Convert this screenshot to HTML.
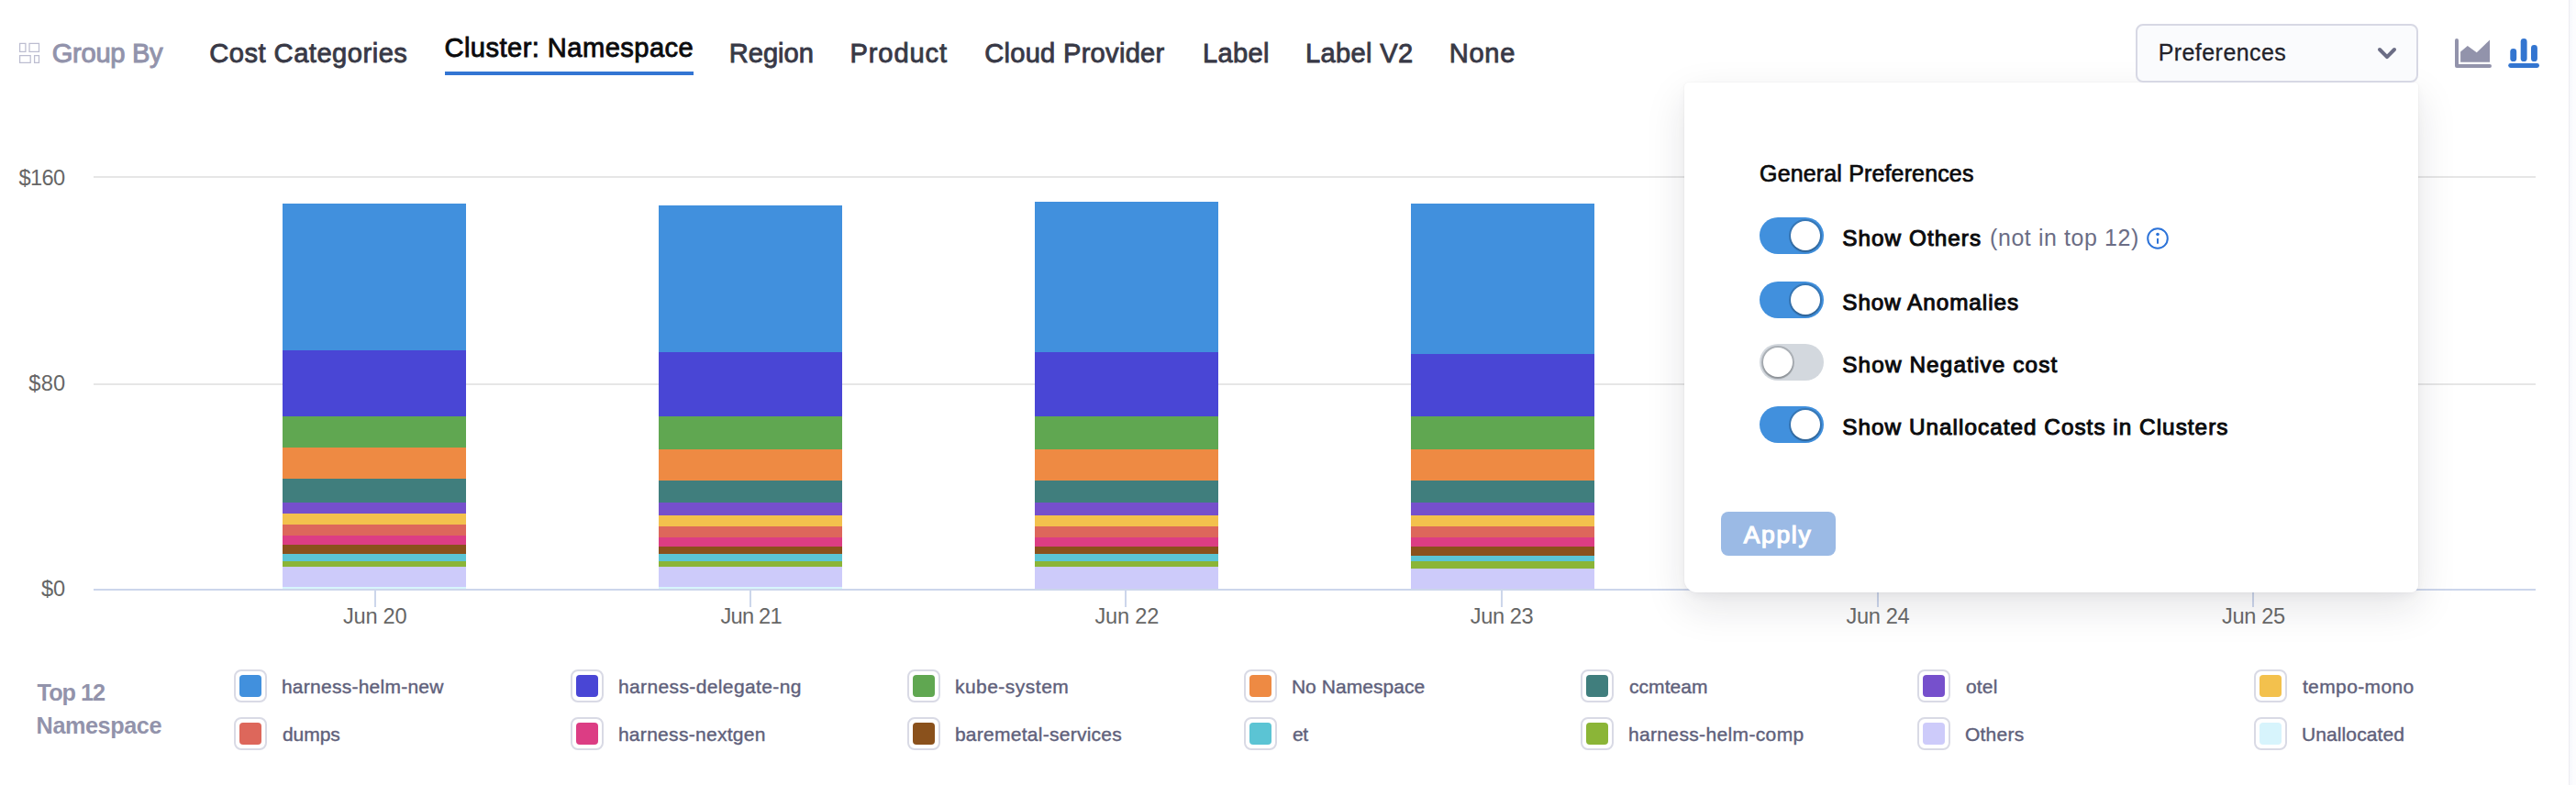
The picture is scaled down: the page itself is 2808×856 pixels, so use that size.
<!DOCTYPE html>
<html lang="en"><head><meta charset="utf-8"><title>Cost Explorer</title>
<style>
html,body{margin:0;padding:0;background:#fff;}
body{width:2808px;height:856px;position:relative;overflow:hidden;font-family:"Liberation Sans", sans-serif;-webkit-font-smoothing:antialiased;}
.t{position:absolute;white-space:nowrap;line-height:1;margin:0;padding:0;}
.a{position:absolute;}
.sw{position:absolute;width:32px;height:32px;border:2px solid #d9dae5;border-radius:8px;background:#fff;}
.sw i{position:absolute;left:4px;top:4px;width:24px;height:24px;border-radius:4px;}
.tg{position:absolute;left:82px;width:70px;height:40px;border-radius:20px;background:#4190dd;}
.tg i{position:absolute;top:4px;left:34px;width:32px;height:32px;border-radius:16px;background:#fff;box-shadow:0 0 0 2px rgba(16,22,26,.2),0 2px 2px rgba(16,22,26,.2);}
.tg.off{background:#d3d8de;}.tg.off i{left:4px;}
</style></head><body>
<div class="a" style="left:2800px;top:0;width:8px;height:856px;background:linear-gradient(90deg,#ececf1 0,#ececf1 1px,#f7f8fc 1px,#f8f9fd 3px,#fcfcfe 5px,#fcfcfe 8px);"></div>
<svg class="a" style="left:18px;top:44px" width="28" height="28" viewBox="18 44 28 28" fill="none" stroke="#bcbdd0" stroke-width="1.25"><rect x="21.6" y="47.4" width="6.3" height="9"/><rect x="32" y="47.4" width="10.5" height="9"/><rect x="21.6" y="60.6" width="11.6" height="7.8"/><rect x="37.6" y="60.6" width="4.9" height="7.8"/></svg>
<div class="a" style="left:485px;top:78px;width:271px;height:4px;background:#3375d3;"></div>
<div class="a" style="left:102px;top:192px;width:2662px;height:2px;background:#e6e6e6;"></div>
<div class="a" style="left:102px;top:418px;width:2662px;height:2px;background:#e6e6e6;"></div>
<div class="a" style="left:308px;top:222px;width:200px;height:160px;background:#4190dd;"></div>
<div class="a" style="left:308px;top:382px;width:200px;height:72px;background:#4946d5;"></div>
<div class="a" style="left:308px;top:454px;width:200px;height:34px;background:#60a751;"></div>
<div class="a" style="left:308px;top:488px;width:200px;height:34px;background:#ee8a43;"></div>
<div class="a" style="left:308px;top:522px;width:200px;height:26px;background:#407e7d;"></div>
<div class="a" style="left:308px;top:548px;width:200px;height:12px;background:#7650cc;"></div>
<div class="a" style="left:308px;top:560px;width:200px;height:12px;background:#f3c14d;"></div>
<div class="a" style="left:308px;top:572px;width:200px;height:12px;background:#dd675b;"></div>
<div class="a" style="left:308px;top:584px;width:200px;height:10px;background:#dc3d84;"></div>
<div class="a" style="left:308px;top:594px;width:200px;height:10px;background:#8a511c;"></div>
<div class="a" style="left:308px;top:604px;width:200px;height:8px;background:#5bc4d4;"></div>
<div class="a" style="left:308px;top:612px;width:200px;height:6px;background:#8bb537;"></div>
<div class="a" style="left:308px;top:618px;width:200px;height:22px;background:#cdcbfa;"></div>
<div class="a" style="left:308px;top:640px;width:200px;height:2px;background:#d7f4fc;"></div>
<div class="a" style="left:718px;top:224px;width:200px;height:160px;background:#4190dd;"></div>
<div class="a" style="left:718px;top:384px;width:200px;height:70px;background:#4946d5;"></div>
<div class="a" style="left:718px;top:454px;width:200px;height:36px;background:#60a751;"></div>
<div class="a" style="left:718px;top:490px;width:200px;height:34px;background:#ee8a43;"></div>
<div class="a" style="left:718px;top:524px;width:200px;height:24px;background:#407e7d;"></div>
<div class="a" style="left:718px;top:548px;width:200px;height:14px;background:#7650cc;"></div>
<div class="a" style="left:718px;top:562px;width:200px;height:12px;background:#f3c14d;"></div>
<div class="a" style="left:718px;top:574px;width:200px;height:12px;background:#dd675b;"></div>
<div class="a" style="left:718px;top:586px;width:200px;height:10px;background:#dc3d84;"></div>
<div class="a" style="left:718px;top:596px;width:200px;height:8px;background:#8a511c;"></div>
<div class="a" style="left:718px;top:604px;width:200px;height:8px;background:#5bc4d4;"></div>
<div class="a" style="left:718px;top:612px;width:200px;height:6px;background:#8bb537;"></div>
<div class="a" style="left:718px;top:618px;width:200px;height:22px;background:#cdcbfa;"></div>
<div class="a" style="left:718px;top:640px;width:200px;height:2px;background:#d7f4fc;"></div>
<div class="a" style="left:1128px;top:220px;width:200px;height:164px;background:#4190dd;"></div>
<div class="a" style="left:1128px;top:384px;width:200px;height:70px;background:#4946d5;"></div>
<div class="a" style="left:1128px;top:454px;width:200px;height:36px;background:#60a751;"></div>
<div class="a" style="left:1128px;top:490px;width:200px;height:34px;background:#ee8a43;"></div>
<div class="a" style="left:1128px;top:524px;width:200px;height:24px;background:#407e7d;"></div>
<div class="a" style="left:1128px;top:548px;width:200px;height:14px;background:#7650cc;"></div>
<div class="a" style="left:1128px;top:562px;width:200px;height:12px;background:#f3c14d;"></div>
<div class="a" style="left:1128px;top:574px;width:200px;height:12px;background:#dd675b;"></div>
<div class="a" style="left:1128px;top:586px;width:200px;height:10px;background:#dc3d84;"></div>
<div class="a" style="left:1128px;top:596px;width:200px;height:8px;background:#8a511c;"></div>
<div class="a" style="left:1128px;top:604px;width:200px;height:8px;background:#5bc4d4;"></div>
<div class="a" style="left:1128px;top:612px;width:200px;height:6px;background:#8bb537;"></div>
<div class="a" style="left:1128px;top:618px;width:200px;height:24px;background:#cdcbfa;"></div>
<div class="a" style="left:1538px;top:222px;width:200px;height:164px;background:#4190dd;"></div>
<div class="a" style="left:1538px;top:386px;width:200px;height:68px;background:#4946d5;"></div>
<div class="a" style="left:1538px;top:454px;width:200px;height:36px;background:#60a751;"></div>
<div class="a" style="left:1538px;top:490px;width:200px;height:34px;background:#ee8a43;"></div>
<div class="a" style="left:1538px;top:524px;width:200px;height:24px;background:#407e7d;"></div>
<div class="a" style="left:1538px;top:548px;width:200px;height:14px;background:#7650cc;"></div>
<div class="a" style="left:1538px;top:562px;width:200px;height:12px;background:#f3c14d;"></div>
<div class="a" style="left:1538px;top:574px;width:200px;height:12px;background:#dd675b;"></div>
<div class="a" style="left:1538px;top:586px;width:200px;height:10px;background:#dc3d84;"></div>
<div class="a" style="left:1538px;top:596px;width:200px;height:10px;background:#8a511c;"></div>
<div class="a" style="left:1538px;top:606px;width:200px;height:6px;background:#5bc4d4;"></div>
<div class="a" style="left:1538px;top:612px;width:200px;height:8px;background:#8bb537;"></div>
<div class="a" style="left:1538px;top:620px;width:200px;height:22px;background:#cdcbfa;"></div>
<div class="a" style="left:102px;top:642px;width:2662px;height:2px;background:#ccd6eb;"></div>
<div class="a" style="left:408.0px;top:644px;width:2px;height:17.5px;background:#ccd6eb;"></div>
<div class="a" style="left:816.6px;top:644px;width:2px;height:17.5px;background:#ccd6eb;"></div>
<div class="a" style="left:1226.4px;top:644px;width:2px;height:17.5px;background:#ccd6eb;"></div>
<div class="a" style="left:1636.0px;top:644px;width:2px;height:17.5px;background:#ccd6eb;"></div>
<div class="a" style="left:2046.0px;top:644px;width:2px;height:17.5px;background:#ccd6eb;"></div>
<div class="a" style="left:2454.5px;top:644px;width:2px;height:17.5px;background:#ccd6eb;"></div>
<div class="sw" style="left:255.0px;top:730px;"><i style="background:#4190dd"></i></div>
<div class="sw" style="left:255.0px;top:782px;"><i style="background:#dd675b"></i></div>
<div class="sw" style="left:622.0px;top:730px;"><i style="background:#4946d5"></i></div>
<div class="sw" style="left:622.0px;top:782px;"><i style="background:#dc3d84"></i></div>
<div class="sw" style="left:989.0px;top:730px;"><i style="background:#60a751"></i></div>
<div class="sw" style="left:989.0px;top:782px;"><i style="background:#8a511c"></i></div>
<div class="sw" style="left:1356.0px;top:730px;"><i style="background:#ee8a43"></i></div>
<div class="sw" style="left:1356.0px;top:782px;"><i style="background:#5bc4d4"></i></div>
<div class="sw" style="left:1723.0px;top:730px;"><i style="background:#407e7d"></i></div>
<div class="sw" style="left:1723.0px;top:782px;"><i style="background:#8bb537"></i></div>
<div class="sw" style="left:2090.0px;top:730px;"><i style="background:#7650cc"></i></div>
<div class="sw" style="left:2090.0px;top:782px;"><i style="background:#cdcbfa"></i></div>
<div class="sw" style="left:2457.0px;top:730px;"><i style="background:#f3c14d"></i></div>
<div class="sw" style="left:2457.0px;top:782px;"><i style="background:#d7f4fc"></i></div>
<svg class="a" style="left:2672px;top:38px" width="48" height="40" viewBox="2672 38 48 40"><path d="M2678 44.1 V72 H2714" fill="none" stroke="#9293ab" stroke-width="4" stroke-linecap="round" stroke-linejoin="round"/><path d="M2682.1 56.4 L2689.8 50 L2699.75 57.3 L2714 43.6 V67.85 H2682.1 Z" fill="#9293ab"/></svg>
<svg class="a" style="left:2730px;top:38px" width="44" height="40" viewBox="2730 38 44 40" fill="#3375d0"><rect x="2734.2" y="69.1" width="33.8" height="4.9" rx="2.45"/><rect x="2736.3" y="53.1" width="6.9" height="14" rx="3.4"/><rect x="2747.7" y="42.1" width="6.9" height="25" rx="3.4"/><rect x="2759" y="49" width="6.9" height="18.1" rx="3.4"/></svg>
<div class="a" id="pop" style="left:1836px;top:90px;width:800px;height:556px;background:#fff;border-radius:5px 4px 8px 14px;box-shadow:0 0 0 1px rgba(30,30,45,.02),0 4px 8px rgba(30,30,45,.04),0 16px 44px rgba(30,30,45,.115);">
<div class="tg" style="top:147px"><i></i></div>
<div class="tg" style="top:217px"><i></i></div>
<div class="tg off" style="top:285px"><i></i></div>
<div class="tg" style="top:353px"><i></i></div>
<svg class="a" style="left:502px;top:156px" width="28" height="28" viewBox="0 0 28 28"><circle cx="14" cy="14" r="10.8" fill="none" stroke="#2b72d8" stroke-width="2"/><circle cx="14" cy="9.45" r="1.8" fill="#2b72d8"/><rect x="13" y="13.7" width="2" height="6.1" rx="0.6" fill="#2b72d8"/></svg>
<div class="a" style="left:40px;top:468px;width:125px;height:48px;border-radius:8px;background:#9bbae5;"></div>
<span class="t" style="left:82.10px;top:87.00px;font-size:24.96px;color:#0b0b0d;letter-spacing:0.168px;-webkit-text-stroke:0.7px #0b0b0d;">General Preferences</span>
<span class="t" style="left:172.25px;top:157.51px;font-size:24.3px;color:#0b0b0d;letter-spacing:1.046px;-webkit-text-stroke:1.0px #0b0b0d;">Show Others</span>
<span class="t" style="left:333.00px;top:156.50px;font-size:24.96px;color:#6b6d85;letter-spacing:0.596px;">(not in top 12)</span>
<span class="t" style="left:172.25px;top:227.76px;font-size:24.3px;color:#0b0b0d;letter-spacing:0.937px;-webkit-text-stroke:1.0px #0b0b0d;">Show Anomalies</span>
<span class="t" style="left:172.25px;top:296.01px;font-size:24.3px;color:#0b0b0d;letter-spacing:1.133px;-webkit-text-stroke:1.0px #0b0b0d;">Show Negative cost</span>
<span class="t" style="left:172.25px;top:364.01px;font-size:24.3px;color:#0b0b0d;letter-spacing:1.028px;-webkit-text-stroke:1.0px #0b0b0d;">Show Unallocated Costs in Clusters</span>
<span class="t" style="left:64.83px;top:480.00px;font-size:26.4px;color:#ffffff;letter-spacing:1.683px;-webkit-text-stroke:1.25px #ffffff;">Apply</span>
</div>
<div class="a" style="left:2328px;top:26px;width:304px;height:60px;border:2px solid #d7d8e4;border-radius:8px;background:#fafbfd;"></div>
<svg class="a" style="left:2586px;top:46px" width="32" height="24" viewBox="2586 46 32 24" fill="none" stroke="#6b6d85" stroke-width="4" stroke-linecap="round" stroke-linejoin="round"><path d="M2594 54 L2602 62.1 L2610 54"/></svg>
<span class="t" style="left:56.80px;top:44.00px;font-size:29.12px;color:#9293ab;letter-spacing:-0.315px;-webkit-text-stroke:1.0px #9293ab;">Group By</span>
<span class="t" style="left:228.18px;top:44.00px;font-size:29.12px;color:#383946;letter-spacing:0.499px;-webkit-text-stroke:0.85px #383946;">Cost Categories</span>
<span class="t" style="left:484.43px;top:38.00px;font-size:29.12px;color:#0b0b0d;letter-spacing:0.449px;-webkit-text-stroke:0.85px #0b0b0d;">Cluster: Namespace</span>
<span class="t" style="left:794.67px;top:44.00px;font-size:29.12px;color:#383946;letter-spacing:0.019px;-webkit-text-stroke:0.85px #383946;">Region</span>
<span class="t" style="left:926.42px;top:44.00px;font-size:29.12px;color:#383946;letter-spacing:0.903px;-webkit-text-stroke:0.85px #383946;">Product</span>
<span class="t" style="left:1073.17px;top:44.00px;font-size:29.12px;color:#383946;letter-spacing:0.274px;-webkit-text-stroke:0.85px #383946;">Cloud Provider</span>
<span class="t" style="left:1310.92px;top:44.00px;font-size:29.12px;color:#383946;letter-spacing:0.348px;-webkit-text-stroke:0.85px #383946;">Label</span>
<span class="t" style="left:1422.92px;top:44.00px;font-size:29.12px;color:#383946;letter-spacing:0.346px;-webkit-text-stroke:0.85px #383946;">Label V2</span>
<span class="t" style="left:1579.67px;top:44.00px;font-size:29.12px;color:#383946;letter-spacing:0.750px;-webkit-text-stroke:0.85px #383946;">None</span>
<span class="t" style="left:2352.65px;top:45.25px;font-size:24.96px;color:#22222a;letter-spacing:0.464px;-webkit-text-stroke:0.3px #22222a;">Preferences</span>
<span class="t" style="left:20.60px;top:183.01px;font-size:23.61px;color:#666666;letter-spacing:-0.664px;">$160</span>
<span class="t" style="left:31.25px;top:407.01px;font-size:23.61px;color:#666666;letter-spacing:0.245px;">$80</span>
<span class="t" style="left:45.00px;top:631.01px;font-size:23.61px;color:#666666;letter-spacing:-0.130px;">$0</span>
<span class="t" style="left:374.00px;top:661.26px;font-size:23.61px;color:#666666;letter-spacing:-0.251px;">Jun 20</span>
<span class="t" style="left:785.50px;top:661.26px;font-size:23.61px;color:#666666;letter-spacing:-0.751px;">Jun 21</span>
<span class="t" style="left:1193.50px;top:661.26px;font-size:23.61px;color:#666666;letter-spacing:-0.201px;">Jun 22</span>
<span class="t" style="left:1602.75px;top:661.26px;font-size:23.61px;color:#666666;letter-spacing:-0.401px;">Jun 23</span>
<span class="t" style="left:2012.50px;top:661.26px;font-size:23.61px;color:#666666;letter-spacing:-0.351px;">Jun 24</span>
<span class="t" style="left:2422.00px;top:661.26px;font-size:23.61px;color:#666666;letter-spacing:-0.351px;">Jun 25</span>
<span class="t" style="left:40.60px;top:743.01px;font-size:25.27px;color:#9293ab;font-weight:700;letter-spacing:-1.019px;">Top 12</span>
<span class="t" style="left:39.60px;top:779.01px;font-size:25.27px;color:#9293ab;font-weight:700;letter-spacing:-0.450px;">Namespace</span>
<span class="t" style="left:306.90px;top:738.00px;font-size:21.0px;color:#5f617b;letter-spacing:0.255px;-webkit-text-stroke:0.4px #5f617b;">harness-helm-new</span>
<span class="t" style="left:673.90px;top:738.00px;font-size:21.0px;color:#5f617b;letter-spacing:0.386px;-webkit-text-stroke:0.4px #5f617b;">harness-delegate-ng</span>
<span class="t" style="left:1040.90px;top:738.00px;font-size:21.0px;color:#5f617b;letter-spacing:0.486px;-webkit-text-stroke:0.4px #5f617b;">kube-system</span>
<span class="t" style="left:1407.90px;top:738.00px;font-size:21.0px;color:#5f617b;letter-spacing:0.059px;-webkit-text-stroke:0.4px #5f617b;">No Namespace</span>
<span class="t" style="left:1775.90px;top:738.00px;font-size:21.0px;color:#5f617b;letter-spacing:0.086px;-webkit-text-stroke:0.4px #5f617b;">ccmteam</span>
<span class="t" style="left:2142.90px;top:738.00px;font-size:21.0px;color:#5f617b;letter-spacing:0.202px;-webkit-text-stroke:0.4px #5f617b;">otel</span>
<span class="t" style="left:2509.90px;top:738.00px;font-size:21.0px;color:#5f617b;letter-spacing:0.388px;-webkit-text-stroke:0.4px #5f617b;">tempo-mono</span>
<span class="t" style="left:307.90px;top:790.00px;font-size:21.0px;color:#5f617b;letter-spacing:-0.033px;-webkit-text-stroke:0.4px #5f617b;">dumps</span>
<span class="t" style="left:673.90px;top:790.00px;font-size:21.0px;color:#5f617b;letter-spacing:0.296px;-webkit-text-stroke:0.4px #5f617b;">harness-nextgen</span>
<span class="t" style="left:1040.90px;top:790.00px;font-size:21.0px;color:#5f617b;letter-spacing:0.265px;-webkit-text-stroke:0.4px #5f617b;">baremetal-services</span>
<span class="t" style="left:1408.90px;top:790.00px;font-size:21.0px;color:#5f617b;letter-spacing:-0.279px;-webkit-text-stroke:0.4px #5f617b;">et</span>
<span class="t" style="left:1774.90px;top:790.00px;font-size:21.0px;color:#5f617b;letter-spacing:0.357px;-webkit-text-stroke:0.4px #5f617b;">harness-helm-comp</span>
<span class="t" style="left:2141.90px;top:790.00px;font-size:21.0px;color:#5f617b;letter-spacing:0.256px;-webkit-text-stroke:0.4px #5f617b;">Others</span>
<span class="t" style="left:2508.90px;top:790.00px;font-size:21.0px;color:#5f617b;letter-spacing:0.117px;-webkit-text-stroke:0.4px #5f617b;">Unallocated</span>
</body></html>
